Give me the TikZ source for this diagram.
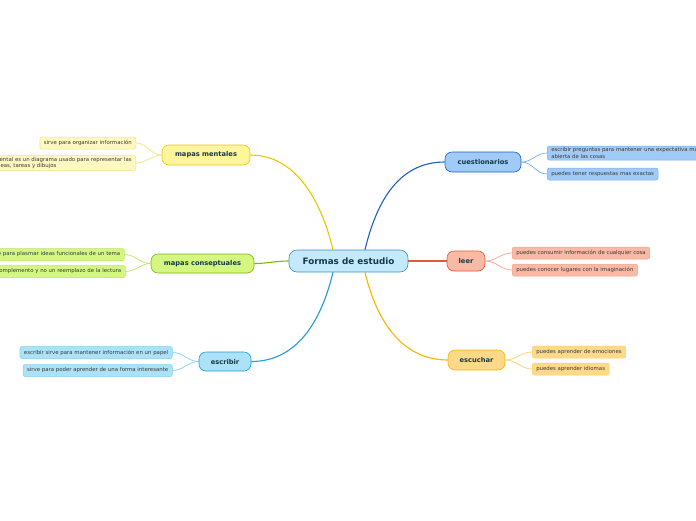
\documentclass[tikz,border=0pt]{standalone}
\usepackage{fontspec}
\setmainfont{DejaVu Sans}
\usetikzlibrary{calc}

\definecolor{titulo}{HTML}{123A4A}
\definecolor{hoja}{HTML}{3A3A3A}
\definecolor{centroF}{HTML}{C4E9FB}
\definecolor{centroB}{HTML}{3A8FC7}
\definecolor{amarF}{HTML}{FFF59D}
\definecolor{amarB}{HTML}{E6C800}
\definecolor{amarH}{HTML}{FFF8C0}
\definecolor{amarL}{HTML}{F3E37A}
\definecolor{verdeF}{HTML}{D4F77F}
\definecolor{verdeB}{HTML}{7CB518}
\definecolor{verdeL}{HTML}{B9E36A}
\definecolor{celesteF}{HTML}{ABE2F8}
\definecolor{celesteB}{HTML}{1E9BD7}
\definecolor{celesteL}{HTML}{86D0F0}
\definecolor{azulF}{HTML}{9FCBF6}
\definecolor{azulB}{HTML}{1D5FC7}
\definecolor{azulL}{HTML}{78AEEE}
\definecolor{rojoF}{HTML}{F9B9A4}
\definecolor{rojoB}{HTML}{E05A35}
\definecolor{rojoL}{HTML}{F4A087}
\definecolor{naranjaF}{HTML}{FFD98A}
\definecolor{naranjaB}{HTML}{F4B400}
\definecolor{naranjaL}{HTML}{FFCF63}

\begin{document}
\begin{tikzpicture}[
  x=1pt, y=-1pt,
  topic/.style={draw, rounded corners=7pt, line width=0.6pt, inner sep=0,
    minimum height=20pt, text=titulo, font=\fontsize{6.7}{8}\selectfont\bfseries},
  leaf/.style={draw, rounded corners=2pt, line width=0.5pt, inner xsep=4pt, inner ysep=1.5pt,
    minimum height=12pt, align=left, text=hoja, font=\fontsize{5.4}{6.6}\selectfont},
  rama/.style={line width=1.1pt},
  ramita/.style={line width=0.7pt}
]
\useasboundingbox (0,0) rectangle (696,520);

% centro
\node[topic, fill=centroF, draw=centroB, minimum width=119pt, minimum height=22pt,
  rounded corners=8pt, font=\fontsize{8.8}{10}\selectfont\bfseries] (centro) at (348.5,261) {Formas de estudio};

% temas izquierda
\node[topic, fill=amarF, draw=amarB, minimum width=88pt] (mentales) at (206,155) {mapas mentales};
\node[topic, fill=verdeF, draw=verdeB, minimum width=103pt, minimum height=19pt] (conseptuales) at (202.5,263.5) {mapas conseptuales};
\node[topic, fill=celesteF, draw=celesteB, minimum width=52pt, minimum height=19pt] (escribir) at (225,361.5) {escribir};

% temas derecha
\node[topic, fill=azulF, draw=azulB, minimum width=76pt] (cuestionarios) at (483,162) {cuestionarios};
\node[topic, fill=rojoF, draw=rojoB, minimum width=38pt] (leer) at (466,261) {leer};
\node[topic, fill=naranjaF, draw=naranjaB, minimum width=57pt] (escuchar) at (476.5,360) {escuchar};

% hojas
\node[leaf, fill=amarH, draw=amarL, anchor=east] (m1) at (136,143) {sirve para organizar información};
\node[leaf, fill=amarH, draw=amarL, anchor=east] (m2) at (136,163) {un mapa mental es un diagrama usado para representar las\\palabras, ideas, tareas y dibujos};

\node[leaf, fill=verdeF, draw=verdeL, anchor=east] (c1) at (124.5,254.5) {sirve para plasmar ideas funcionales de un tema};
\node[leaf, fill=verdeF, draw=verdeL, anchor=east] (c2) at (125.5,271.5) {es un complemento y no un reemplazo de la lectura};

\node[leaf, fill=celesteF, draw=celesteL, anchor=east] (e1) at (172.5,352.5) {escribir sirve para mantener información en un papel};
\node[leaf, fill=celesteF, draw=celesteL, anchor=east] (e2) at (172.5,370.5) {sirve para poder aprender de una forma interesante};

\node[leaf, fill=azulF, draw=azulL, anchor=west] (q1) at (547,153) {escribir preguntas para mantener una expectativa más\\abierta de las cosas};
\node[leaf, fill=azulF, draw=azulL, anchor=west] (q2) at (547,174) {puedes tener respuestas mas exactas};

\node[leaf, fill=rojoF, draw=rojoL, anchor=west] (l1) at (512,253) {puedes consumir información de cualquier cosa};
\node[leaf, fill=rojoF, draw=rojoL, anchor=west] (l2) at (512,270) {puedes conocer lugares con la imaginación};

\node[leaf, fill=naranjaF, draw=naranjaL, anchor=west] (s1) at (532,352) {puedes aprender de emociones};
\node[leaf, fill=naranjaF, draw=naranjaL, anchor=west] (s2) at (532,369) {puedes aprender idiomas};

% ramas del centro
\draw[rama, amarB] ($(centro.north)+(-15.5,0)$) .. controls +(-12,-50) and +(45,0) .. (mentales.east);
\draw[rama, verdeB] (centro.west) to[out=180, in=0] (conseptuales.east);
\draw[rama, celesteB] ($(centro.south)+(-15.5,0)$) .. controls +(-12,50) and +(45,0) .. (escribir.east);
\draw[rama, azulB] ($(centro.north)+(16.5,0)$) .. controls +(12,-50) and +(-45,0) .. (cuestionarios.west);
\draw[rama, rojoB] (centro.east) -- (leer.west);
\draw[rama, naranjaB] ($(centro.south)+(16.5,0)$) .. controls +(12,50) and +(-45,0) .. (escuchar.west);

% ramas de las hojas
\foreach \t/\h in {mentales/m1, mentales/m2}
  \draw[ramita, amarL] (\t.west) to[out=180, in=0] (\h.east);
\foreach \t/\h in {conseptuales/c1, conseptuales/c2}
  \draw[ramita, verdeL] (\t.west) to[out=180, in=0] (\h.east);
\foreach \t/\h in {escribir/e1, escribir/e2}
  \draw[ramita, celesteL] (\t.west) to[out=180, in=0] (\h.east);
\foreach \t/\h in {cuestionarios/q1, cuestionarios/q2}
  \draw[ramita, azulL] (\t.east) to[out=0, in=180] (\h.west);
\foreach \t/\h in {leer/l1, leer/l2}
  \draw[ramita, rojoL] (\t.east) to[out=0, in=180] (\h.west);
\foreach \t/\h in {escuchar/s1, escuchar/s2}
  \draw[ramita, naranjaL] (\t.east) to[out=0, in=180] (\h.west);
\end{tikzpicture}
\end{document}
